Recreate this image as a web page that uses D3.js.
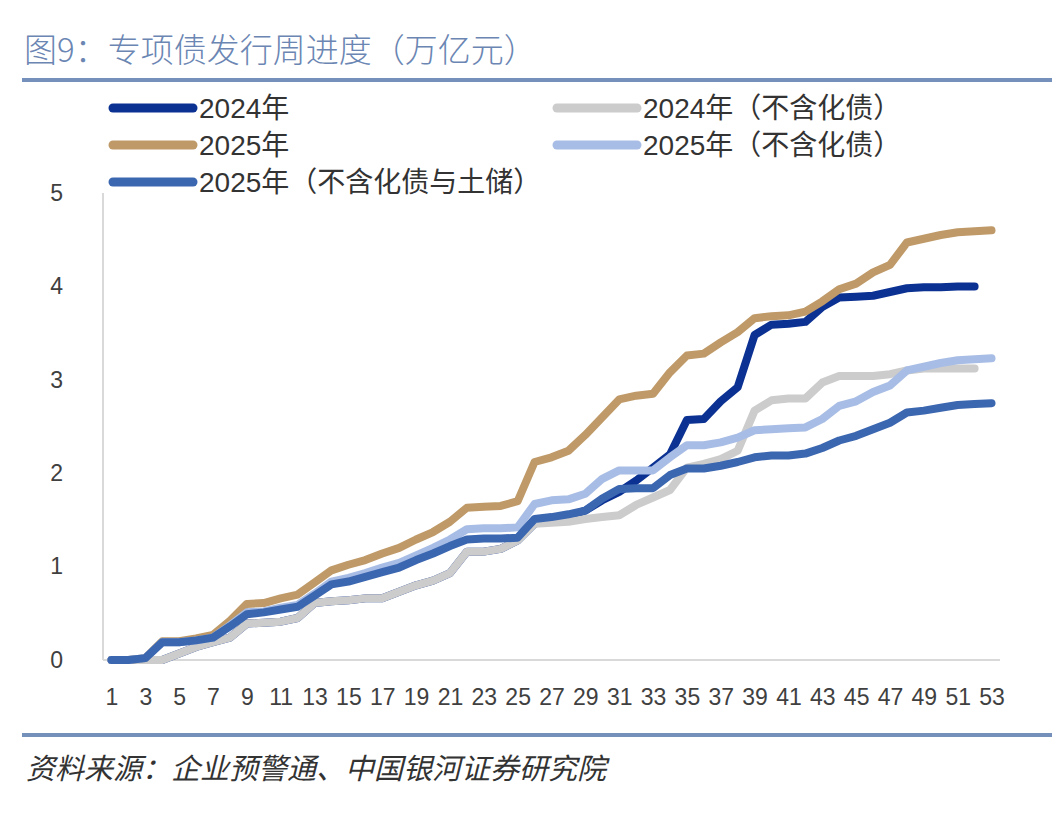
<!DOCTYPE html>
<html>
<head>
    <meta charset="utf-8">
    <title></title>
    <script src="https://cdn.jsdelivr.net/npm/d3@7/dist/d3.min.js" charset="utf-8"></script>
    <style>
        body{ margin:0; background:#ffffff; }
        .title{ font-family:"Noto Sans CJK SC", sans-serif; font-size:33px; font-weight:300; fill:#6b86b3; }
        .source{ font-family:"Noto Sans CJK SC", sans-serif; font-size:29px; fill:#333333; font-style:italic; }
        .legend text{ font-family:"Liberation Sans", "Noto Sans CJK SC", sans-serif; font-size:28px; fill:#333333; }
        .axis text{ font-family:"Liberation Sans", sans-serif; font-size:23px; fill:#404040; }
        .axis path{ stroke:#d9d9d9; stroke-width:2; }
    </style>
</head>
<body>

<script type="text/javascript">

    var weeks = d3.range(1, 54);

    var s2024 = [0, 0, 0, 0, 0.07, 0.14, 0.19, 0.24, 0.39, 0.4,
                0.41, 0.45, 0.61, 0.63, 0.64, 0.66, 0.66, 0.73, 0.8, 0.85,
                0.93, 1.16, 1.16, 1.19, 1.28, 1.46, 1.5, 1.54, 1.6, 1.71,
                1.8, 1.92, 2.06, 2.2, 2.57, 2.58, 2.77, 2.92, 3.48, 3.59,
                3.6, 3.62, 3.78, 3.88, 3.89, 3.9, 3.94, 3.98, 3.99, 3.99,
                4.0, 4.0];

    var s2024ex = [0, 0, 0, 0, 0.07, 0.14, 0.19, 0.24, 0.39, 0.4,
                0.41, 0.45, 0.61, 0.63, 0.64, 0.66, 0.66, 0.73, 0.8, 0.85,
                0.93, 1.16, 1.16, 1.19, 1.28, 1.46, 1.47, 1.48, 1.51, 1.53,
                1.55, 1.66, 1.74, 1.82, 2.06, 2.1, 2.15, 2.24, 2.67, 2.78,
                2.8, 2.8, 2.97, 3.04, 3.04, 3.04, 3.06, 3.1, 3.12, 3.12,
                3.12, 3.12];

    var s2025 = [0, 0, 0.02, 0.2, 0.2, 0.23, 0.27, 0.42, 0.6, 0.61,
                0.66, 0.7, 0.83, 0.96, 1.02, 1.07, 1.14, 1.2, 1.29, 1.37,
                1.48, 1.63, 1.64, 1.65, 1.7, 2.12, 2.17, 2.24, 2.41, 2.6,
                2.79, 2.83, 2.85, 3.08, 3.26, 3.28, 3.4, 3.51, 3.66, 3.68,
                3.69, 3.73, 3.84, 3.97, 4.03, 4.15, 4.23, 4.47, 4.51, 4.55,
                4.58, 4.59, 4.6];

    var s2025ex = [0, 0, 0.02, 0.19, 0.19, 0.21, 0.24, 0.37, 0.51, 0.52,
                0.56, 0.59, 0.71, 0.84, 0.88, 0.93, 0.99, 1.04, 1.12, 1.2,
                1.29, 1.4, 1.41, 1.41, 1.42, 1.67, 1.71, 1.72, 1.78, 1.94,
                2.03, 2.03, 2.03, 2.17, 2.3, 2.3, 2.33, 2.38, 2.46, 2.47,
                2.48, 2.49, 2.58, 2.72, 2.77, 2.87, 2.94, 3.1, 3.14, 3.18,
                3.21, 3.22, 3.23];

    var s2025exLand = [0, 0, 0.02, 0.19, 0.19, 0.21, 0.24, 0.36, 0.49, 0.51,
                0.54, 0.57, 0.69, 0.81, 0.84, 0.89, 0.94, 0.99, 1.07, 1.14,
                1.22, 1.29, 1.3, 1.3, 1.31, 1.51, 1.53, 1.56, 1.6, 1.73,
                1.83, 1.84, 1.84, 1.98, 2.05, 2.05, 2.08, 2.12, 2.17, 2.19,
                2.19, 2.21, 2.27, 2.35, 2.4, 2.47, 2.54, 2.65, 2.67, 2.7,
                2.73, 2.74, 2.75];

    var seriesNames = ["2024年", "2024年（不含化债）", "2025年", "2025年（不含化债）", "2025年（不含化债与土储）"];
    var seriesColors = ["#0b3192", "#cccccc", "#bf9a68", "#a8bde5", "#3b66b0"];
    var yTicks = [0, 1, 2, 3, 4, 5];
    var xTicks = weeks.filter(function(d){ return d % 2 === 1; });

    var series = [s2024, s2024ex, s2025, s2025ex, s2025exLand].map(function(vals, i){
        return {name: seriesNames[i], color: seriesColors[i], values: vals};
    });

    var w = 1064,
        h = 825;

    var svg = d3.select("body")
            .append("svg")
            .attr("width", w)
            .attr("height", h);

    // title + rules
    svg.append("text")
            .attr("class", "title")
            .attr("x", 24)
            .attr("y", 62)
            .text("图9：专项债发行周进度（万亿元）");

    svg.append("rect").attr("x", 22).attr("y", 78).attr("width", 1030).attr("height", 4).attr("fill", "#7590ba");
    svg.append("rect").attr("x", 22).attr("y", 733).attr("width", 1030).attr("height", 4).attr("fill", "#7590ba");

    svg.append("text")
            .attr("class", "source")
            .attr("x", 26)
            .attr("y", 779)
            .text("资料来源：企业预警通、中国银河证券研究院");

    var x = d3.scalePoint()
            .domain(weeks)
            .range([103, 1000])
            .padding(0.5);

    var y = d3.scaleLinear()
            .domain([0, 5])
            .range([660, 193]);

    // axes
    svg.append("g")
            .attr("class", "axis")
            .attr("transform", "translate(103,0)")
            .call(d3.axisLeft(y).tickValues(yTicks).tickSize(0).tickPadding(40).tickFormat(d3.format("d")))
            .select(".domain").attr("d", "M0," + y(5) + "V" + y(0));

    var xAxis = svg.append("g")
            .attr("class", "axis")
            .attr("transform", "translate(0,660)")
            .call(d3.axisBottom(x).tickValues(xTicks).tickSize(0).tickPadding(29));
    xAxis.select(".domain").attr("d", "M103,0H1000");
    xAxis.selectAll("text").attr("dy", "0.71em");

    var line = d3.line()
            .x(function(d, i){ return x(weeks[i]); })
            .y(function(d){ return y(d); });

    svg.selectAll("path.series")
            .data(series)
            .enter()
            .append("path")
            .attr("class", "series")
            .attr("d", function(d){ return line(d.values); })
            .attr("fill", "none")
            .attr("stroke", function(d){ return d.color; })
            .attr("stroke-width", 8)
            .attr("stroke-linejoin", "round")
            .attr("stroke-linecap", "round");

    // legend: two columns, filled row by row
    var legendPos = [[113, 108], [557, 108], [113, 145], [557, 145], [113, 182]];

    var legend = svg.append("g").attr("class", "legend")
            .selectAll("g")
            .data(series)
            .enter()
            .append("g")
            .attr("transform", function(d, i){ return "translate(" + legendPos[i][0] + "," + legendPos[i][1] + ")"; });

    legend.append("line")
            .attr("x1", 0).attr("x2", 80)
            .attr("stroke", function(d){ return d.color; })
            .attr("stroke-width", 9)
            .attr("stroke-linecap", "round");

    legend.append("text")
            .attr("x", 86)
            .attr("y", 10)
            .text(function(d){ return d.name; });
</script>
</body>
</html>
